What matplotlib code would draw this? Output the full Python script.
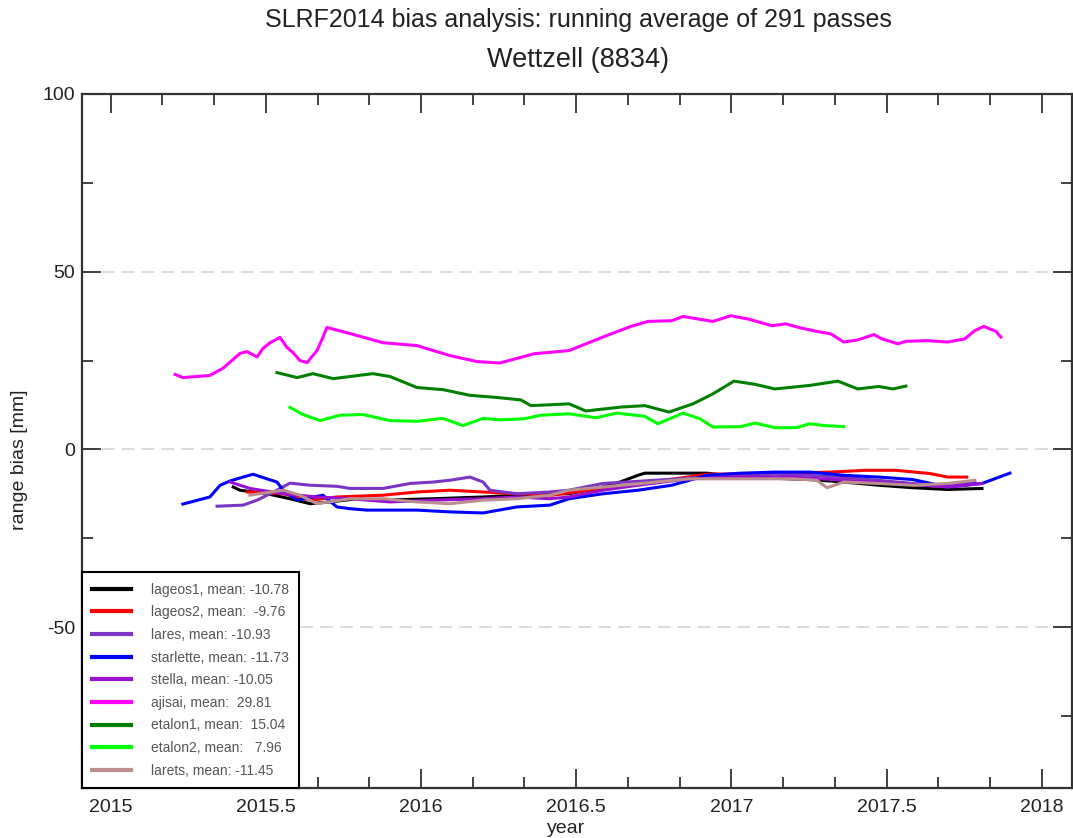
import numpy as np
import matplotlib.pyplot as plt
from matplotlib.ticker import MultipleLocator

plt.rcParams['font.family'] = ['Liberation Sans Narrow', 'Liberation Sans', 'DejaVu Sans']

# running-average range bias per satellite (year, mm)
lageos1_year = [2015.395, 2015.417, 2015.504, 2015.578, 2015.643, 2015.707, 2015.794, 2015.878,
                2016.039, 2016.200, 2016.309, 2016.415, 2016.477, 2016.586, 2016.641, 2016.699,
                2016.721, 2016.921, 2017.031, 2017.253, 2017.362, 2017.475, 2017.584, 2017.697, 2017.807]
lageos1_bias = [-10.6, -11.5, -12.5, -13.9, -15.3, -14.8, -13.9, -14.3,
                -13.9, -13.4, -12.9, -12.5, -12.5, -10.6, -9.2, -7.3,
                -6.7, -6.7, -7.8, -8.5, -9.2, -10.1, -10.8, -11.3, -11.0]

lageos2_year = [2015.440, 2015.556, 2015.643, 2015.729, 2015.878, 2015.987, 2016.093, 2016.200,
                2016.309, 2016.422, 2016.586, 2016.786, 2016.921, 2017.140, 2017.320, 2017.430,
                2017.530, 2017.639, 2017.697, 2017.758]
lageos2_bias = [-12.0, -12.5, -14.3, -13.4, -12.9, -12.0, -11.5, -12.0,
                -12.5, -12.9, -11.0, -8.7, -7.0, -6.8, -6.4, -5.9,
                -5.9, -6.8, -7.8, -7.8]

lares_year = [2015.343, 2015.427, 2015.472, 2015.504, 2015.536, 2015.578, 2015.643, 2015.729,
              2015.771, 2015.878, 2015.965, 2016.039, 2016.093, 2016.158, 2016.200, 2016.222,
              2016.309, 2016.415, 2016.477, 2016.586, 2016.754, 2016.921, 2017.140, 2017.253,
              2017.420, 2017.584, 2017.697, 2017.784]
lares_bias = [-16.0, -15.7, -14.3, -12.9, -11.5, -9.5, -10.1, -10.4,
              -11.0, -11.0, -9.6, -9.2, -8.7, -7.8, -9.2, -11.5,
              -12.5, -12.0, -11.5, -9.6, -8.7, -7.8, -7.0, -7.3,
              -8.3, -9.6, -10.1, -9.2]

starlette_year = [2015.233, 2015.320, 2015.353, 2015.385, 2015.427, 2015.459, 2015.504, 2015.536,
                  2015.556, 2015.601, 2015.684, 2015.729, 2015.771, 2015.826, 2015.987, 2016.093,
                  2016.200, 2016.309, 2016.415, 2016.477, 2016.586, 2016.699, 2016.808, 2016.921,
                  2017.031, 2017.140, 2017.253, 2017.362, 2017.475, 2017.584, 2017.697, 2017.807,
                  2017.897]
starlette_bias = [-15.4, -13.4, -10.1, -8.9, -7.8, -7.0, -8.3, -9.2,
                  -11.5, -14.3, -12.9, -16.2, -16.7, -17.1, -17.1, -17.6,
                  -17.9, -16.2, -15.7, -13.9, -12.5, -11.5, -10.1, -7.3,
                  -6.7, -6.4, -6.4, -7.3, -7.8, -8.5, -10.6, -9.6,
                  -6.7]

stella_year = [2015.385, 2015.449, 2015.556, 2015.665, 2015.771, 2015.900, 2016.039, 2016.200,
               2016.309, 2016.415, 2016.477, 2016.586, 2016.699, 2016.863, 2017.031, 2017.198,
               2017.362, 2017.530, 2017.697, 2017.807]
stella_bias = [-9.2, -11.0, -12.5, -13.4, -13.9, -14.8, -14.3, -13.9,
               -13.4, -13.9, -13.4, -11.5, -10.1, -8.3, -7.8, -7.8,
               -8.7, -9.6, -10.6, -9.6]

ajisai_year = [2015.208, 2015.233, 2015.320, 2015.362, 2015.417, 2015.440, 2015.472, 2015.491,
               2015.514, 2015.546, 2015.568, 2015.588, 2015.610, 2015.633, 2015.665, 2015.684,
               2015.697, 2015.771, 2015.878, 2015.987, 2016.093, 2016.180, 2016.254, 2016.364,
               2016.477, 2016.586, 2016.676, 2016.731, 2016.808, 2016.844, 2016.940, 2016.998,
               2017.053, 2017.130, 2017.176, 2017.221, 2017.275, 2017.320, 2017.362, 2017.407,
               2017.459, 2017.485, 2017.536, 2017.562, 2017.630, 2017.697, 2017.752, 2017.784,
               2017.813, 2017.852, 2017.868]
ajisai_bias = [21.1, 20.2, 20.8, 22.8, 27.0, 27.5, 26.0, 28.4,
               30.0, 31.5, 28.7, 27.2, 25.0, 24.4, 27.8, 31.5,
               34.3, 32.6, 30.0, 29.2, 26.4, 24.7, 24.3, 26.9,
               27.8, 31.6, 34.6, 36.0, 36.2, 37.4, 36.0, 37.6,
               36.7, 34.8, 35.3, 34.2, 33.2, 32.5, 30.2, 30.8,
               32.3, 31.1, 29.7, 30.4, 30.6, 30.2, 31.1, 33.4,
               34.6, 33.2, 31.6]

etalon1_year = [2015.536, 2015.601, 2015.652, 2015.717, 2015.845, 2015.900, 2015.987, 2016.071,
                2016.158, 2016.245, 2016.322, 2016.354, 2016.477, 2016.531, 2016.644, 2016.721,
                2016.799, 2016.876, 2016.940, 2017.008, 2017.076, 2017.140, 2017.253, 2017.343,
                2017.407, 2017.475, 2017.520, 2017.562]
etalon1_bias = [21.6, 20.2, 21.3, 19.9, 21.3, 20.5, 17.4, 16.8,
                15.2, 14.6, 13.9, 12.3, 12.8, 10.8, 11.9, 12.3,
                10.5, 12.8, 15.6, 19.2, 18.3, 17.0, 18.0, 19.2,
                17.0, 17.7, 17.0, 17.8]

etalon2_year = [2015.578, 2015.620, 2015.675, 2015.739, 2015.813, 2015.900, 2015.987, 2016.071,
                2016.135, 2016.200, 2016.254, 2016.332, 2016.386, 2016.477, 2016.564, 2016.631,
                2016.721, 2016.763, 2016.844, 2016.899, 2016.940, 2017.031, 2017.076, 2017.140,
                2017.208, 2017.253, 2017.298, 2017.362]
etalon2_bias = [11.8, 9.8, 8.1, 9.6, 9.8, 8.1, 7.9, 8.7,
                6.7, 8.7, 8.3, 8.6, 9.6, 10.0, 8.9, 10.2,
                9.3, 7.2, 10.2, 8.6, 6.3, 6.4, 7.4, 6.1,
                6.1, 7.2, 6.7, 6.4]

larets_year = [2015.449, 2015.556, 2015.610, 2015.665, 2015.771, 2015.878, 2015.987, 2016.093,
               2016.200, 2016.309, 2016.415, 2016.477, 2016.586, 2016.721, 2016.863, 2017.031,
               2017.198, 2017.275, 2017.308, 2017.362, 2017.475, 2017.584, 2017.697, 2017.784]
larets_bias = [-12.9, -11.5, -12.9, -15.3, -13.9, -13.9, -14.8, -15.3,
               -14.3, -13.9, -12.9, -11.5, -10.6, -9.5, -8.3, -8.3,
               -8.3, -8.7, -10.8, -9.2, -9.6, -10.1, -9.6, -8.7]

satellites = ['lageos1', 'lageos2', 'lares', 'starlette', 'stella', 'ajisai', 'etalon1', 'etalon2', 'larets']
means = [-10.78, -9.76, -10.93, -11.73, -10.05, 29.81, 15.04, 7.96, -11.45]
colors = ['#000000', '#ff0000', '#7b35c4', '#0000ff', '#9a10d0', '#ff00ff', '#008000', '#00ff00', '#bc8f8f']

series = [
    (lageos1_year, lageos1_bias),
    (lageos2_year, lageos2_bias),
    (lares_year, lares_bias),
    (starlette_year, starlette_bias),
    (stella_year, stella_bias),
    (ajisai_year, ajisai_bias),
    (etalon1_year, etalon1_bias),
    (etalon2_year, etalon2_bias),
    (larets_year, larets_bias),
]

fig = plt.figure(figsize=(10.73, 8.38), dpi=100)
ax = fig.add_axes([82 / 1073, 1 - 788 / 838, 990 / 1073, 694 / 838])

for y in (-50, 0, 50):
    ax.axhline(y, color='#d8d8d8', lw=1.3, dashes=(7, 4), zorder=0)

for (yr, bias), name, m, c in zip(series, satellites, means, colors):
    label = f'{name}, mean: {m:6.2f}'
    ax.plot(yr, bias, color=c, lw=2.2, label=label)

ax.set_xlim(2014.908, 2018.097)
ax.set_ylim(-95.3, 100)
ax.xaxis.set_major_locator(MultipleLocator(0.5))
ax.xaxis.set_minor_locator(MultipleLocator(1 / 6))
ax.yaxis.set_major_locator(MultipleLocator(50))
ax.yaxis.set_minor_locator(MultipleLocator(25))
ax.xaxis.set_major_formatter(plt.FuncFormatter(lambda v, p: f'{v:g}'))
ax.yaxis.set_major_formatter(plt.FuncFormatter(lambda v, p: f'{v:g}'))
ax.tick_params(which='both', direction='in', top=True, right=True, colors='#222222',
               labelsize=14, labelcolor='#222222', width=1.2)
ax.tick_params(which='major', length=14)
ax.tick_params(axis='x', which='major', pad=8)
ax.tick_params(axis='y', which='major', pad=5)
ax.tick_params(which='minor', length=8)
for s in ax.spines.values():
    s.set_color('#333333')
    s.set_linewidth(1.6)

leg = ax.legend(loc='lower left', bbox_to_anchor=(0, 0), borderaxespad=0, fontsize=10,
                frameon=True, fancybox=False, framealpha=1, edgecolor='black',
                handlelength=2.8, handletextpad=1.4, labelspacing=0.62, borderpad=0.75)
leg.get_frame().set_linewidth(1.5)
for line in leg.get_lines():
    line.set_linewidth(3)
for t in leg.get_texts():
    t.set_color('#555555')

fig.text(578 / 1073, 1 - 20 / 838, 'SLRF2014 bias analysis: running average of 291 passes',
         ha='center', va='center', fontsize=18, color='#222222')
fig.text(578 / 1073, 1 - 60 / 838, 'Wettzell (8834)', ha='center', va='center',
         fontsize=19.5, color='#222222')
fig.text(566 / 1073, 1 - 828 / 838, 'year', ha='center', va='center', fontsize=14, color='#222222')
fig.text(20 / 1073, 1 - 460 / 838, 'range bias [mm]', ha='center', va='center', rotation=90,
         fontsize=14, color='#222222')

fig.savefig('out.png', dpi=100)
